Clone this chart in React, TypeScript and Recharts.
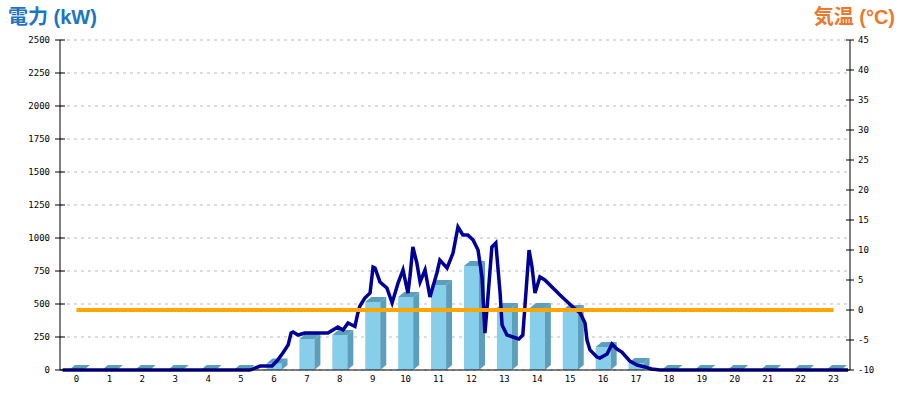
import React from "react";
import {
  ComposedChart,
  Bar,
  Line,
  XAxis,
  YAxis,
  CartesianGrid,
} from "recharts";

// hourly categories
const hours = [
  "0", "1", "2", "3", "4", "5", "6", "7", "8", "9", "10", "11",
  "12", "13", "14", "15", "16", "17", "18", "19", "20", "21", "22", "23",
];
// hourly power (kW) bars
const hourlyKw = [
  0, 0, 0, 0, 0, 0, 50, 235, 265, 515, 553, 644,
  788, 470, 470, 455, 174, 53, 0, 0, 0, 0, 0, 0,
];
// temperature (°C)
const tempC = [
  0, 0, 0, 0, 0, 0, 0, 0, 0, 0, 0, 0,
  0, 0, 0, 0, 0, 0, 0, 0, 0, 0, 0, 0,
];

// detailed power trace: time (hours) and kW
const traceT = [
  0.08, 5.77, 5.92, 6.08, 6.44, 6.59, 6.77, 6.93, 7.02, 7.08, 7.23, 7.44,
  8.14, 8.29, 8.44, 8.6, 8.75, 8.87, 8.96, 9.05, 9.11, 9.26, 9.42, 9.51,
  9.57, 9.72, 9.93, 10.09, 10.27, 10.42, 10.57, 10.63, 10.72, 10.84, 10.94, 11.09,
  11.24, 11.45, 11.54, 11.76, 11.94, 12.09, 12.24, 12.39, 12.55, 12.7, 12.82, 12.91,
  13.0, 13.12, 13.24, 13.37, 13.43, 13.58, 13.76, 13.94, 14.06, 14.19, 14.25, 14.34,
  14.43, 14.58, 14.73, 15.19, 15.58, 15.8, 15.95, 16.01, 16.1, 16.31, 16.4, 16.62,
  16.77, 16.92, 17.07, 17.31, 17.53, 17.77, 17.98, 18.23, 23.94,
];
const traceKw = [
  0, 0, 15, 30, 30, 68, 129, 189, 280, 288, 265, 280,
  280, 303, 326, 303, 356, 341, 330, 432, 485, 545, 583, 780,
  773, 667, 621, 508, 659, 758, 583, 705, 932, 811, 667, 758,
  553, 735, 833, 773, 886, 1083, 1023, 1023, 985, 909, 705, 280,
  553, 932, 962, 583, 341, 265, 250, 235, 265, 705, 909, 780,
  583, 705, 682, 568, 477, 432, 356, 227, 152, 98, 91, 121,
  197, 159, 136, 68, 38, 23, 8, 0, 0,
];

const kwTicks = [0, 250, 500, 750, 1000, 1250, 1500, 1750, 2000, 2250, 2500];
const tempTicks = [-10, -5, 0, 5, 10, 15, 20, 25, 30, 35, 40, 45];

const hourly = hours.map((h, i) => ({ hour: h, kw: hourlyKw[i], temp: tempC[i] }));
const trace = traceT.map((t, i) => ({ t, kw: traceKw[i] }));

const FONT = "'DejaVu Sans Mono', monospace";
const TITLE_FONT = "'Liberation Sans', 'Noto Sans CJK JP', sans-serif";

const LeftTick = (props: any) => {
  const { x, y, payload } = props;
  return (
    <g>
      <line x1={x - 5} x2={x + 5} y1={y} y2={y} stroke="#000" />
      <text x={x - 10} y={y} dy={3} textAnchor="end" fontSize={9} fontFamily={FONT} fill="#000">
        {payload.value}
      </text>
    </g>
  );
};

const RightTick = (props: any) => {
  const { x, y, payload } = props;
  return (
    <g>
      <line x1={x - 4} x2={x + 4} y1={y} y2={y} stroke="#000" />
      <text x={x + 8} y={y} dy={3} textAnchor="start" fontSize={9} fontFamily={FONT} fill="#000">
        {payload.value}
      </text>
    </g>
  );
};

// 3D looking bar
const Bar3D = (props: any) => {
  const { x, y, width, height } = props;
  const d = 6;
  const dy = 5;
  const bottom = y + height;
  const dark = "#5b9fbd";
  return (
    <g>
      {height > 0 && (
        <>
          <rect x={x} y={y} width={width} height={height} fill="#87ceeb" />
          <polygon
            points={`${x + width},${y} ${x + width + d},${y - dy} ${x + width + d},${bottom - dy} ${x + width},${bottom}`}
            fill={dark}
          />
        </>
      )}
      <polygon
        points={`${x},${y} ${x + width},${y} ${x + width + d},${y - dy} ${x + d},${y - dy}`}
        fill={dark}
      />
    </g>
  );
};

export default function App() {
  return (
    <div style={{ position: "absolute", left: 0, top: 0, width: 900, height: 400, background: "#fff" }}>
      <div
        style={{
          position: "absolute",
          left: 8,
          top: 6,
          fontFamily: TITLE_FONT,
          fontWeight: "bold",
          fontSize: 20,
          lineHeight: "22px",
          color: "#1a76c0",
        }}
      >
        電力 (kW)
      </div>
      <div
        style={{
          position: "absolute",
          right: 5,
          top: 6,
          fontFamily: TITLE_FONT,
          fontWeight: "bold",
          fontSize: 20,
          lineHeight: "22px",
          color: "#ec782c",
        }}
      >
        気温 (°C)
      </div>
      <ComposedChart
        width={900}
        height={400}
        data={hourly}
        margin={{ top: 40, right: 0, bottom: 0, left: 0 }}
      >
        <CartesianGrid
          yAxisId="left"
          vertical={false}
          stroke="#bbbbbb"
          strokeDasharray="3 4"
        />
        <XAxis
          dataKey="hour"
          interval={0}
          height={30}
          tickLine={false}
          tickSize={4}
          axisLine={{ stroke: "#000" }}
          tick={{ fontSize: 9, fontFamily: FONT, fill: "#000" }}
        />
        <XAxis xAxisId="time" type="number" dataKey="t" domain={[0, 24]} hide />
        <YAxis
          yAxisId="left"
          width={60}
          domain={[0, 2500]}
          ticks={kwTicks}
          interval={0}
          tickSize={0}
          tickMargin={0}
          tickLine={false}
          axisLine={{ stroke: "#000" }}
          tick={<LeftTick />}
        />
        <YAxis
          yAxisId="right"
          orientation="right"
          width={50}
          domain={[-10, 45]}
          ticks={tempTicks}
          interval={0}
          tickSize={0}
          tickMargin={0}
          tickLine={false}
          axisLine={{ stroke: "#000" }}
          tick={<RightTick />}
        />
        <Bar
          yAxisId="left"
          dataKey="kw"
          barSize={15}
          shape={<Bar3D />}
          isAnimationActive={false}
        />
        <Line
          xAxisId="time"
          yAxisId="left"
          data={trace}
          dataKey="kw"
          type="linear"
          stroke="#000099"
          strokeWidth={3.5}
          dot={false}
          isAnimationActive={false}
        />
        <Line
          yAxisId="right"
          dataKey="temp"
          type="linear"
          stroke="#ffa500"
          strokeWidth={4}
          dot={false}
          isAnimationActive={false}
        />
      </ComposedChart>
    </div>
  );
}
